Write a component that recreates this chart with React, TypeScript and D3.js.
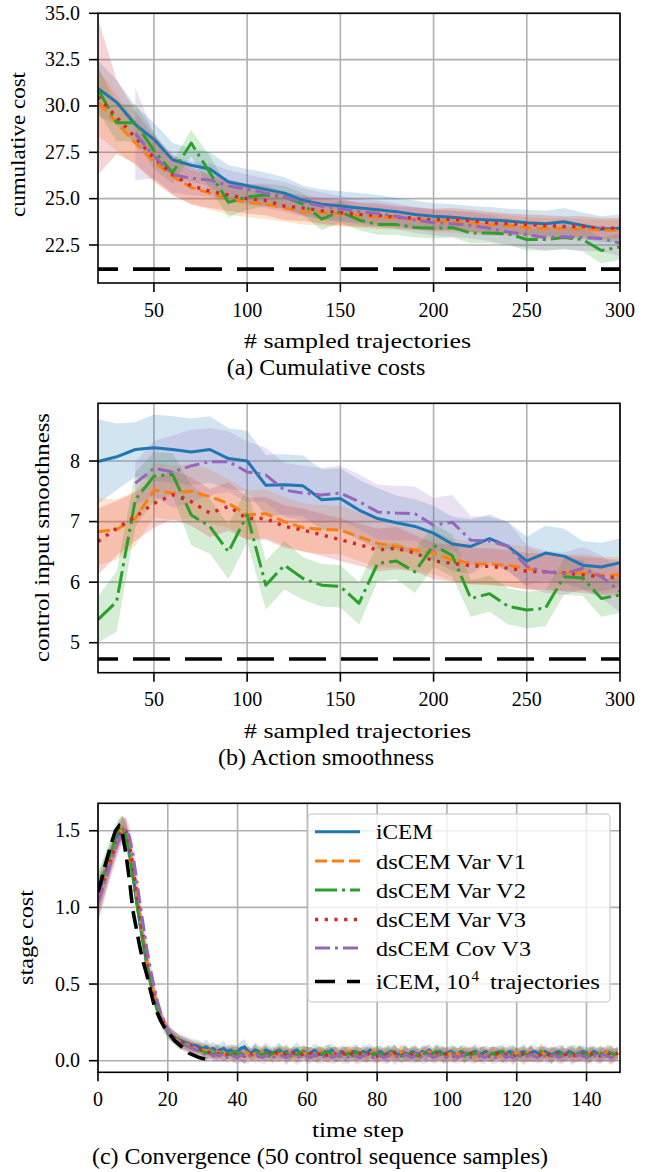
import React from "react";
import * as d3 from "d3";

// ---------- data ----------
const sampledTrajectories = [20, 30, 40, 50, 60, 70, 80, 90, 100, 110, 120, 130, 140, 150, 160, 170, 180, 190, 200, 210, 220, 230, 240, 250, 260, 270, 280, 290, 300];
const covTrajectories = [40, 50, 60, 70, 80, 90, 100, 110, 120, 130, 140, 150, 160, 170, 180, 190, 200, 210, 220, 230, 240, 250, 260, 270, 280, 290, 300];

// (a) cumulative cost
const costIcem = [30.95, 30.2, 29.0, 28.2, 27.1, 26.8, 26.6, 25.9, 25.7, 25.5, 25.3, 24.9, 24.7, 24.6, 24.5, 24.4, 24.3, 24.15, 24.05, 24.0, 23.9, 23.85, 23.8, 23.7, 23.65, 23.75, 23.55, 23.35, 23.4];
const costVarV1 = [30.2, 29.1, 28.0, 27.0, 26.2, 25.6, 25.3, 25.0, 24.8, 24.7, 24.5, 24.3, 24.25, 24.2, 24.1, 24.0, 23.95, 23.9, 23.8, 23.75, 23.7, 23.6, 23.55, 23.45, 23.4, 23.4, 23.35, 23.3, 23.3];
const costVarV2 = [30.9, 29.1, 29.1, 27.6, 26.4, 28.0, 26.4, 24.8, 25.1, 25.2, 25.1, 24.7, 23.9, 24.3, 23.85, 23.6, 23.6, 23.45, 23.4, 23.45, 23.15, 23.15, 23.1, 22.8, 22.8, 22.9, 22.8, 22.2, 22.4];
const costVarV3 = [30.5, 29.4, 28.3, 27.2, 26.3, 25.7, 25.4, 25.2, 25.0, 24.9, 24.6, 24.5, 24.35, 24.25, 24.15, 24.1, 24.0, 23.95, 23.85, 23.9, 23.8, 23.7, 23.65, 23.6, 23.55, 23.5, 23.5, 23.4, 23.4];
const costCovV3 = [28.5, 27.3, 26.3, 26.1, 26.0, 25.7, 25.5, 25.3, 25.1, 24.8, 24.6, 24.45, 24.3, 24.2, 24.05, 23.85, 23.7, 23.65, 23.55, 23.4, 23.2, 23.05, 22.9, 22.95, 22.9, 22.85, 22.6];
const costIcemStd = [1.5, 1.2, 1.0, 0.9, 0.9, 0.9, 0.9, 0.9, 0.9, 0.9, 0.85, 0.8, 0.8, 0.8, 0.8, 0.8, 0.75, 0.75, 0.7, 0.7, 0.7, 0.7, 0.65, 0.7, 0.7, 0.75, 0.7, 0.7, 0.75];
const costVarV1Std = [1.8, 1.5, 1.2, 1.1, 1.0, 0.9, 0.9, 0.85, 0.8, 0.8, 0.75, 0.7, 0.7, 0.7, 0.65, 0.65, 0.6, 0.6, 0.6, 0.6, 0.6, 0.6, 0.55, 0.55, 0.55, 0.55, 0.55, 0.55, 0.55];
const costVarV2Std = [1.2, 1.0, 1.0, 1.0, 0.6, 0.7, 0.9, 0.8, 0.7, 0.6, 0.6, 0.6, 0.6, 0.6, 0.55, 0.55, 0.55, 0.55, 0.55, 0.55, 0.55, 0.55, 0.6, 0.6, 0.6, 0.6, 0.65, 0.7, 0.7];
const costVarV3Std = [4.2, 2.0, 1.4, 1.2, 1.1, 1.0, 0.9, 0.85, 0.8, 0.8, 0.75, 0.7, 0.7, 0.7, 0.65, 0.65, 0.6, 0.6, 0.6, 0.6, 0.6, 0.6, 0.55, 0.55, 0.55, 0.55, 0.55, 0.55, 0.55];
const costCovV3Std = [2.5, 1.2, 1.0, 0.9, 0.9, 0.85, 0.8, 0.8, 0.8, 0.75, 0.75, 0.7, 0.7, 0.7, 0.7, 0.7, 0.7, 0.7, 0.7, 0.7, 0.7, 0.7, 0.7, 0.7, 0.7, 0.7, 0.7];
const costReference = 21.2;

// (b) action smoothness
const smoothIcem = [7.99, 8.07, 8.19, 8.22, 8.19, 8.15, 8.19, 8.04, 8.0, 7.6, 7.61, 7.59, 7.36, 7.38, 7.19, 7.05, 6.98, 6.92, 6.81, 6.63, 6.59, 6.72, 6.59, 6.35, 6.48, 6.43, 6.28, 6.25, 6.32];
const smoothVarV1 = [6.83, 6.87, 7.05, 7.52, 7.47, 7.5, 7.41, 7.3, 7.11, 7.13, 7.0, 6.9, 6.87, 6.86, 6.75, 6.64, 6.59, 6.53, 6.48, 6.37, 6.31, 6.3, 6.28, 6.23, 6.17, 6.15, 6.16, 6.12, 6.12];
const smoothVarV2 = [5.38, 5.68, 7.36, 7.75, 7.78, 7.11, 6.92, 6.5, 7.11, 5.95, 6.28, 6.06, 5.95, 5.93, 5.65, 6.31, 6.35, 6.17, 6.61, 6.44, 5.73, 5.81, 5.6, 5.54, 5.57, 6.09, 6.07, 5.73, 5.79];
const smoothVarV3 = [6.67, 6.89, 7.08, 7.3, 7.44, 7.33, 7.14, 7.25, 7.05, 7.05, 6.92, 6.86, 6.78, 6.7, 6.62, 6.53, 6.56, 6.48, 6.35, 6.31, 6.27, 6.26, 6.23, 6.18, 6.17, 6.15, 6.12, 6.09, 6.07];
const smoothCovV3 = [7.63, 7.88, 7.82, 7.92, 7.99, 7.99, 7.82, 7.77, 7.52, 7.47, 7.44, 7.47, 7.33, 7.16, 7.14, 7.13, 6.94, 6.99, 6.69, 6.68, 6.59, 6.26, 6.17, 6.14, 6.23, 6.09, 5.85];
const smoothIcemStd = [0.7, 0.55, 0.45, 0.55, 0.55, 0.55, 0.55, 0.5, 0.5, 0.5, 0.5, 0.5, 0.5, 0.5, 0.5, 0.5, 0.45, 0.45, 0.45, 0.45, 0.45, 0.4, 0.4, 0.4, 0.45, 0.45, 0.4, 0.4, 0.4];
const smoothVarV1Std = [0.55, 0.5, 0.45, 0.45, 0.45, 0.45, 0.45, 0.4, 0.4, 0.4, 0.4, 0.4, 0.4, 0.4, 0.4, 0.4, 0.35, 0.35, 0.35, 0.35, 0.35, 0.35, 0.35, 0.35, 0.3, 0.3, 0.3, 0.3, 0.3];
const smoothVarV2Std = [0.38, 0.5, 0.45, 0.4, 0.35, 0.5, 0.45, 0.45, 0.45, 0.4, 0.4, 0.35, 0.35, 0.35, 0.35, 0.3, 0.3, 0.35, 0.35, 0.35, 0.3, 0.3, 0.3, 0.3, 0.3, 0.3, 0.3, 0.3, 0.3];
const smoothVarV3Std = [0.55, 0.45, 0.4, 0.4, 0.4, 0.4, 0.4, 0.4, 0.35, 0.35, 0.35, 0.35, 0.35, 0.35, 0.35, 0.35, 0.35, 0.3, 0.3, 0.3, 0.3, 0.3, 0.3, 0.3, 0.3, 0.3, 0.3, 0.3, 0.3];
const smoothCovV3Std = [0.35, 0.45, 0.6, 0.6, 0.55, 0.5, 0.5, 0.45, 0.45, 0.45, 0.45, 0.45, 0.45, 0.45, 0.45, 0.45, 0.45, 0.45, 0.4, 0.4, 0.4, 0.35, 0.35, 0.35, 0.35, 0.35, 0.35];
const smoothReference = 4.73;

// (c) convergence, stage cost per time step
const stageIcem = [
  1.08, 1.15, 1.22, 1.29, 1.36, 1.43, 1.49, 1.52, 1.47, 1.36,
  1.21, 1.05, 0.90, 0.76, 0.63, 0.52, 0.42, 0.34, 0.28, 0.23,
  0.19, 0.17, 0.15, 0.14, 0.13, 0.12, 0.11, 0.10, 0.10, 0.09,
  0.08, 0.09, 0.07, 0.08, 0.06, 0.07, 0.08, 0.06, 0.07, 0.05,
  0.06, 0.08, 0.09, 0.06, 0.05, 0.07, 0.06, 0.05, 0.07, 0.06,
  0.05, 0.06, 0.07, 0.05, 0.06, 0.04, 0.06, 0.07, 0.05, 0.06,
  0.04, 0.05, 0.07, 0.05, 0.04, 0.06, 0.05, 0.07, 0.04, 0.05,
  0.06, 0.04, 0.05, 0.06, 0.05, 0.04, 0.06, 0.05, 0.07, 0.04,
  0.05, 0.06, 0.04, 0.05, 0.06, 0.05, 0.04, 0.06, 0.05, 0.04,
  0.06, 0.05, 0.04, 0.06, 0.05, 0.07, 0.04, 0.05, 0.06, 0.04,
  0.05, 0.06, 0.05, 0.04, 0.06, 0.05, 0.04, 0.05, 0.06, 0.05,
  0.04, 0.06, 0.05, 0.04, 0.05, 0.06, 0.04, 0.05, 0.06, 0.05,
  0.04, 0.05, 0.06, 0.04, 0.05, 0.06, 0.05, 0.04, 0.06, 0.05,
  0.04, 0.05, 0.06, 0.05, 0.04, 0.06, 0.05, 0.04, 0.05, 0.06,
  0.05, 0.04, 0.06, 0.05, 0.04, 0.05, 0.06, 0.05, 0.04, 0.05,
];
const stageVarV1 = [
  1.06, 1.13, 1.20, 1.27, 1.34, 1.41, 1.47, 1.52, 1.49, 1.39,
  1.25, 1.09, 0.94, 0.80, 0.66, 0.54, 0.44, 0.36, 0.29, 0.24,
  0.20, 0.17, 0.15, 0.13, 0.12, 0.11, 0.10, 0.09, 0.08, 0.08,
  0.07, 0.06, 0.07, 0.05, 0.06, 0.05, 0.04, 0.06, 0.05, 0.04,
  0.05, 0.04, 0.06, 0.05, 0.03, 0.05, 0.04, 0.06, 0.04, 0.05,
  0.03, 0.05, 0.04, 0.06, 0.04, 0.05, 0.03, 0.04, 0.06, 0.05,
  0.04, 0.03, 0.05, 0.04, 0.06, 0.04, 0.03, 0.05, 0.04, 0.05,
  0.03, 0.05, 0.06, 0.04, 0.03, 0.05, 0.04, 0.03, 0.05, 0.06,
  0.04, 0.03, 0.05, 0.04, 0.05, 0.03, 0.04, 0.06, 0.04, 0.03,
  0.05, 0.04, 0.03, 0.05, 0.04, 0.06, 0.03, 0.04, 0.05, 0.04,
  0.03, 0.05, 0.04, 0.05, 0.03, 0.04, 0.06, 0.04, 0.03, 0.05,
  0.04, 0.03, 0.05, 0.04, 0.06, 0.03, 0.04, 0.05, 0.03, 0.04,
  0.05, 0.04, 0.03, 0.05, 0.04, 0.03, 0.05, 0.06, 0.04, 0.03,
  0.05, 0.04, 0.03, 0.05, 0.04, 0.05, 0.03, 0.04, 0.05, 0.04,
  0.03, 0.05, 0.04, 0.03, 0.05, 0.04, 0.06, 0.04, 0.03, 0.05,
];
const stageVarV2 = [
  1.10, 1.17, 1.24, 1.31, 1.38, 1.45, 1.50, 1.52, 1.46, 1.35,
  1.20, 1.05, 0.90, 0.76, 0.63, 0.51, 0.41, 0.33, 0.27, 0.22,
  0.18, 0.16, 0.14, 0.12, 0.11, 0.10, 0.09, 0.08, 0.07, 0.07,
  0.06, 0.05, 0.06, 0.04, 0.05, 0.06, 0.04, 0.05, 0.04, 0.06,
  0.04, 0.05, 0.03, 0.05, 0.04, 0.06, 0.05, 0.04, 0.05, 0.03,
  0.05, 0.04, 0.06, 0.04, 0.05, 0.03, 0.05, 0.04, 0.05, 0.06,
  0.04, 0.05, 0.03, 0.04, 0.05, 0.04, 0.06, 0.04, 0.05, 0.03,
  0.05, 0.04, 0.05, 0.03, 0.06, 0.04, 0.05, 0.04, 0.03, 0.05,
  0.04, 0.05, 0.03, 0.05, 0.04, 0.06, 0.04, 0.03, 0.05, 0.04,
  0.05, 0.03, 0.04, 0.05, 0.04, 0.03, 0.05, 0.06, 0.04, 0.05,
  0.03, 0.04, 0.05, 0.04, 0.06, 0.03, 0.05, 0.04, 0.05, 0.03,
  0.05, 0.04, 0.03, 0.05, 0.04, 0.05, 0.06, 0.03, 0.04, 0.05,
  0.04, 0.03, 0.05, 0.04, 0.05, 0.03, 0.04, 0.06, 0.05, 0.04,
  0.03, 0.05, 0.04, 0.05, 0.03, 0.04, 0.05, 0.06, 0.04, 0.05,
  0.04, 0.03, 0.05, 0.04, 0.05, 0.03, 0.04, 0.05, 0.04, 0.05,
];
const stageVarV3 = [
  1.05, 1.12, 1.19, 1.26, 1.33, 1.40, 1.46, 1.51, 1.50, 1.41,
  1.27, 1.11, 0.96, 0.81, 0.67, 0.55, 0.45, 0.36, 0.29, 0.24,
  0.20, 0.17, 0.15, 0.13, 0.12, 0.11, 0.10, 0.09, 0.08, 0.08,
  0.07, 0.06, 0.05, 0.06, 0.05, 0.04, 0.05, 0.04, 0.06, 0.04,
  0.05, 0.04, 0.03, 0.05, 0.04, 0.05, 0.03, 0.04, 0.05, 0.04,
  0.03, 0.05, 0.04, 0.05, 0.03, 0.04, 0.05, 0.04, 0.03, 0.05,
  0.04, 0.05, 0.03, 0.04, 0.05, 0.03, 0.04, 0.05, 0.04, 0.03,
  0.05, 0.04, 0.03, 0.05, 0.04, 0.05, 0.03, 0.04, 0.05, 0.04,
  0.03, 0.04, 0.05, 0.03, 0.04, 0.05, 0.04, 0.03, 0.05, 0.04,
  0.04, 0.05, 0.03, 0.04, 0.05, 0.04, 0.03, 0.05, 0.04, 0.03,
  0.05, 0.04, 0.03, 0.04, 0.05, 0.03, 0.04, 0.05, 0.04, 0.03,
  0.04, 0.05, 0.03, 0.04, 0.05, 0.04, 0.03, 0.04, 0.05, 0.03,
  0.04, 0.05, 0.04, 0.03, 0.05, 0.04, 0.03, 0.04, 0.05, 0.04,
  0.03, 0.05, 0.04, 0.03, 0.04, 0.05, 0.04, 0.03, 0.05, 0.04,
  0.03, 0.04, 0.05, 0.04, 0.03, 0.05, 0.04, 0.03, 0.04, 0.05,
];
const stageCovV3 = [
  1.03, 1.10, 1.17, 1.24, 1.31, 1.38, 1.44, 1.49, 1.51, 1.46,
  1.35, 1.19, 1.03, 0.88, 0.73, 0.60, 0.49, 0.39, 0.31, 0.25,
  0.20, 0.17, 0.15, 0.13, 0.11, 0.10, 0.09, 0.08, 0.07, 0.06,
  0.05, 0.04, 0.05, 0.03, 0.04, 0.03, 0.05, 0.02, 0.04, 0.03,
  0.02, 0.04, 0.03, 0.02, 0.04, 0.03, 0.04, 0.02, 0.03, 0.04,
  0.02, 0.03, 0.04, 0.03, 0.02, 0.04, 0.03, 0.02, 0.03, 0.04,
  0.03, 0.02, 0.04, 0.03, 0.02, 0.03, 0.04, 0.02, 0.03, 0.04,
  0.02, 0.03, 0.02, 0.04, 0.03, 0.02, 0.03, 0.04, 0.03, 0.02,
  0.04, 0.03, 0.02, 0.03, 0.04, 0.02, 0.03, 0.02, 0.04, 0.03,
  0.02, 0.04, 0.03, 0.02, 0.03, 0.04, 0.02, 0.03, 0.04, 0.03,
  0.02, 0.03, 0.04, 0.02, 0.03, 0.04, 0.03, 0.02, 0.03, 0.04,
  0.03, 0.02, 0.04, 0.03, 0.02, 0.03, 0.04, 0.02, 0.03, 0.02,
  0.04, 0.03, 0.02, 0.03, 0.04, 0.03, 0.02, 0.04, 0.03, 0.02,
  0.03, 0.04, 0.02, 0.03, 0.04, 0.03, 0.02, 0.03, 0.04, 0.03,
  0.02, 0.03, 0.04, 0.02, 0.03, 0.04, 0.03, 0.02, 0.03, 0.04,
];
const stageReference = [
  1.10, 1.18, 1.27, 1.35, 1.43, 1.50, 1.53, 1.48, 1.35, 1.18,
  0.98, 0.86, 0.74, 0.64, 0.56, 0.46, 0.37, 0.31, 0.26, 0.22,
  0.19, 0.16, 0.13, 0.11, 0.09, 0.07, 0.05, 0.04, 0.03, 0.02,
  0.015, 0.01,
];
const stageStd = [
  0.14, 0.12, 0.11, 0.10, 0.09, 0.09, 0.08, 0.08, 0.08, 0.08,
  0.07, 0.07, 0.07, 0.06, 0.06, 0.05, 0.05, 0.05, 0.04, 0.04,
  0.04, 0.04, 0.04, 0.04, 0.04, 0.04, 0.04, 0.04, 0.04, 0.04,
  0.04, 0.05, 0.04, 0.04, 0.05, 0.04, 0.05, 0.04, 0.04, 0.05,
  0.04, 0.05, 0.05, 0.04, 0.04, 0.05, 0.04, 0.04, 0.05, 0.04,
  0.04, 0.04, 0.05, 0.04, 0.05, 0.04, 0.04, 0.05, 0.04, 0.04,
  0.05, 0.04, 0.04, 0.05, 0.04, 0.04, 0.05, 0.04, 0.05, 0.04,
  0.04, 0.05, 0.04, 0.04, 0.05, 0.04, 0.04, 0.05, 0.04, 0.04,
  0.05, 0.04, 0.04, 0.05, 0.04, 0.05, 0.04, 0.04, 0.05, 0.04,
  0.04, 0.05, 0.04, 0.04, 0.05, 0.04, 0.04, 0.05, 0.04, 0.05,
  0.04, 0.04, 0.05, 0.04, 0.04, 0.05, 0.04, 0.04, 0.05, 0.04,
  0.05, 0.04, 0.04, 0.05, 0.04, 0.04, 0.05, 0.04, 0.04, 0.05,
  0.04, 0.04, 0.05, 0.04, 0.05, 0.04, 0.04, 0.05, 0.04, 0.04,
  0.05, 0.04, 0.04, 0.05, 0.04, 0.04, 0.05, 0.04, 0.05, 0.04,
  0.04, 0.05, 0.04, 0.04, 0.05, 0.04, 0.04, 0.05, 0.04, 0.04,
];

const xTicksAB = [50, 100, 150, 200, 250, 300];
const yTicksA = [22.5, 25.0, 27.5, 30.0, 32.5, 35.0];
const yTicksB = [5, 6, 7, 8];
const xTicksC = [0, 20, 40, 60, 80, 100, 120, 140];
const yTicksC = [0.0, 0.5, 1.0, 1.5];

const legendLabels = ["iCEM", "dsCEM Var V1", "dsCEM Var V2", "dsCEM Var V3", "dsCEM Cov V3"];

// ---------- styles ----------
const FONT = "'Liberation Serif', 'Times New Roman', serif";
const COLORS = ["#1f77b4", "#ff7f0e", "#2ca02c", "#d62728", "#9467bd"];
const DASHES = ["none", "12,5", "22,5,3,5", "3.2,6.5", "15,5,3,5"];
const LW = 3;
const GRID = "#b0b0b0";
const X0 = 98;
const X1 = 620;

type Series = { xs: number[]; ys: number[]; sd: number[] };

function Panel(props: {
  id: string;
  top: number;
  bottom: number;
  xDomain: [number, number];
  yDomain: [number, number];
  xTicks: number[];
  yTicks: number[];
  yFmt: (v: number) => string;
  series: Series[];
  refLine?: { xs: number[]; ys: number[]; dash: string; offset: number };
}) {
  const { id, top, bottom, xDomain, yDomain, xTicks, yTicks, yFmt, series, refLine } = props;
  const x = d3.scaleLinear().domain(xDomain).range([X0, X1]);
  const y = d3.scaleLinear().domain(yDomain).range([bottom, top]);
  const line = d3
    .line<[number, number]>()
    .x((d) => x(d[0]))
    .y((d) => y(d[1]));
  const area = d3
    .area<[number, number, number]>()
    .x((d) => x(d[0]))
    .y0((d) => y(d[1] - d[2]))
    .y1((d) => y(d[1] + d[2]));

  return (
    <g>
      <defs>
        <clipPath id={`clip-${id}`}>
          <rect x={X0} y={top} width={X1 - X0} height={bottom - top} />
        </clipPath>
      </defs>
      {xTicks.map((t) => (
        <line key={`gx${t}`} x1={x(t)} x2={x(t)} y1={top} y2={bottom} stroke={GRID} strokeWidth={1.6} />
      ))}
      {yTicks.map((t) => (
        <line key={`gy${t}`} x1={X0} x2={X1} y1={y(t)} y2={y(t)} stroke={GRID} strokeWidth={1.6} />
      ))}
      <g clipPath={`url(#clip-${id})`}>
        {series.map((s, i) => (
          <path
            key={`band${i}`}
            d={area(s.xs.map((v, j) => [v, s.ys[j], s.sd[j]] as [number, number, number])) || ""}
            fill={COLORS[i]}
            fillOpacity={0.2}
            stroke="none"
          />
        ))}
        {series.map((s, i) => (
          <path
            key={`line${i}`}
            d={line(s.xs.map((v, j) => [v, s.ys[j]] as [number, number])) || ""}
            fill="none"
            stroke={COLORS[i]}
            strokeWidth={i === 3 ? 3.4 : LW}
            strokeDasharray={DASHES[i]}
            strokeLinejoin="round"
          />
        ))}
        {refLine ? (
          <path
            d={line(refLine.xs.map((v, i) => [v, refLine.ys[i]] as [number, number])) || ""}
            fill="none"
            stroke="#000"
            strokeWidth={3.6}
            strokeDasharray={refLine.dash}
            strokeDashoffset={refLine.offset}
          />
        ) : null}
      </g>
      <rect x={X0} y={top} width={X1 - X0} height={bottom - top} fill="none" stroke="#000" strokeWidth={1.6} />
      {xTicks.map((t) => (
        <g key={`tx${t}`}>
          <line x1={x(t)} x2={x(t)} y1={bottom} y2={bottom + 9} stroke="#000" strokeWidth={1.6} />
          <text x={x(t)} y={bottom + 33.5} textAnchor="middle" fontFamily={FONT} fontSize={20}>
            {t}
          </text>
        </g>
      ))}
      {yTicks.map((t) => (
        <g key={`ty${t}`}>
          <line x1={X0 - 9} x2={X0} y1={y(t)} y2={y(t)} stroke="#000" strokeWidth={1.6} />
          <text x={80} y={y(t) + 6.5} textAnchor="end" fontFamily={FONT} fontSize={20}>
            {yFmt(t)}
          </text>
        </g>
      ))}
    </g>
  );
}

function Legend() {
  const rows = [831.7, 861, 890, 919.5, 948, 981.5];
  const widths = [57, 150, 150, 150, 155];
  return (
    <g>
      <rect x={308} y={814} width={302} height={188} rx={4} fill="#fff" fillOpacity={0.8} stroke="#cccccc" strokeOpacity={0.8} strokeWidth={1.5} />
      {legendLabels.map((lab, i) => (
        <g key={lab}>
          <line x1={315} x2={360} y1={rows[i]} y2={rows[i]} stroke={COLORS[i]} strokeWidth={i === 3 ? 3.4 : LW} strokeDasharray={DASHES[i]} />
          <text x={376} y={rows[i] + 7.5} fontFamily={FONT} fontSize={22} textLength={widths[i]} lengthAdjust="spacingAndGlyphs">
            {lab}
          </text>
        </g>
      ))}
      <line x1={315} x2={360} y1={rows[5]} y2={rows[5]} stroke="#000" strokeWidth={3.6} strokeDasharray="20,12" />
      <text x={376} y={rows[5] + 7.5} fontFamily={FONT} fontSize={22} textLength={94} lengthAdjust="spacingAndGlyphs">
        iCEM, 10
      </text>
      <text x={471.5} y={rows[5] - 1} fontFamily={FONT} fontSize={15}>
        4
      </text>
      <text x={490} y={rows[5] + 7.5} fontFamily={FONT} fontSize={22} textLength={110} lengthAdjust="spacingAndGlyphs">
        trajectories
      </text>
    </g>
  );
}

export default function App() {
  const timeSteps = stageIcem.map((_, i) => i);
  const refSteps = stageReference.map((_, i) => i);
  const seriesA: Series[] = [
    { xs: sampledTrajectories, ys: costIcem, sd: costIcemStd },
    { xs: sampledTrajectories, ys: costVarV1, sd: costVarV1Std },
    { xs: sampledTrajectories, ys: costVarV2, sd: costVarV2Std },
    { xs: sampledTrajectories, ys: costVarV3, sd: costVarV3Std },
    { xs: covTrajectories, ys: costCovV3, sd: costCovV3Std },
  ];
  const seriesB: Series[] = [
    { xs: sampledTrajectories, ys: smoothIcem, sd: smoothIcemStd },
    { xs: sampledTrajectories, ys: smoothVarV1, sd: smoothVarV1Std },
    { xs: sampledTrajectories, ys: smoothVarV2, sd: smoothVarV2Std },
    { xs: sampledTrajectories, ys: smoothVarV3, sd: smoothVarV3Std },
    { xs: covTrajectories, ys: smoothCovV3, sd: smoothCovV3Std },
  ];
  const seriesC: Series[] = [stageIcem, stageVarV1, stageVarV2, stageVarV3, stageCovV3].map((ys) => ({
    xs: timeSteps,
    ys,
    sd: stageStd,
  }));
  const f1 = d3.format(".1f");
  const f0 = d3.format("d");

  return (
    <svg
      width={654}
      height={1172}
      viewBox="0 0 654 1172"
      style={{ position: "absolute", left: 0, top: 0, background: "#fff" }}
    >
      <rect x={0} y={0} width={654} height={1172} fill="#fff" />
      <Panel
        id="a"
        top={13.3}
        bottom={283}
        xDomain={[20, 300]}
        yDomain={[20.45, 35]}
        xTicks={xTicksAB}
        yTicks={yTicksA}
        yFmt={f1}
        series={seriesA}
        refLine={{ xs: [20, 300], ys: [costReference, costReference], dash: "37,15", offset: 17 }}
      />
      <text transform="translate(25,144.5) rotate(-90)" textAnchor="middle" fontFamily={FONT} fontSize={21} textLength={145} lengthAdjust="spacingAndGlyphs">
        cumulative cost
      </text>
      <text x={357.5} y={348} textAnchor="middle" fontFamily={FONT} fontSize={21} textLength={227} lengthAdjust="spacingAndGlyphs">
        # sampled trajectories
      </text>
      <text x={326} y={375} textAnchor="middle" fontFamily={FONT} fontSize={24}>
        (a) Cumulative costs
      </text>

      <Panel
        id="b"
        top={403.3}
        bottom={672.7}
        xDomain={[20, 300]}
        yDomain={[4.505, 8.953]}
        xTicks={xTicksAB}
        yTicks={yTicksB}
        yFmt={f0}
        series={seriesB}
        refLine={{ xs: [20, 300], ys: [smoothReference, smoothReference], dash: "37,15", offset: 17 }}
      />
      <text transform="translate(49,537.5) rotate(-90)" textAnchor="middle" fontFamily={FONT} fontSize={21} textLength={249} lengthAdjust="spacingAndGlyphs">
        control input smoothness
      </text>
      <text x={357.5} y={738} textAnchor="middle" fontFamily={FONT} fontSize={21} textLength={227} lengthAdjust="spacingAndGlyphs">
        # sampled trajectories
      </text>
      <text x={326} y={765} textAnchor="middle" fontFamily={FONT} fontSize={24}>
        (b) Action smoothness
      </text>

      <Panel
        id="c"
        top={803.3}
        bottom={1072.3}
        xDomain={[0, 149.6]}
        yDomain={[-0.0757, 1.679]}
        xTicks={xTicksC}
        yTicks={yTicksC}
        yFmt={f1}
        series={seriesC}
        refLine={{ xs: refSteps, ys: stageReference, dash: "18,8", offset: 0 }}
      />
      <Legend />
      <text transform="translate(33,937.5) rotate(-90)" textAnchor="middle" fontFamily={FONT} fontSize={21} textLength={95} lengthAdjust="spacingAndGlyphs">
        stage cost
      </text>
      <text x={358} y={1137} textAnchor="middle" fontFamily={FONT} fontSize={21} textLength={92} lengthAdjust="spacingAndGlyphs">
        time step
      </text>
      <text x={320} y={1164} textAnchor="middle" fontFamily={FONT} fontSize={24}>
        (c) Convergence (50 control sequence samples)
      </text>
    </svg>
  );
}
